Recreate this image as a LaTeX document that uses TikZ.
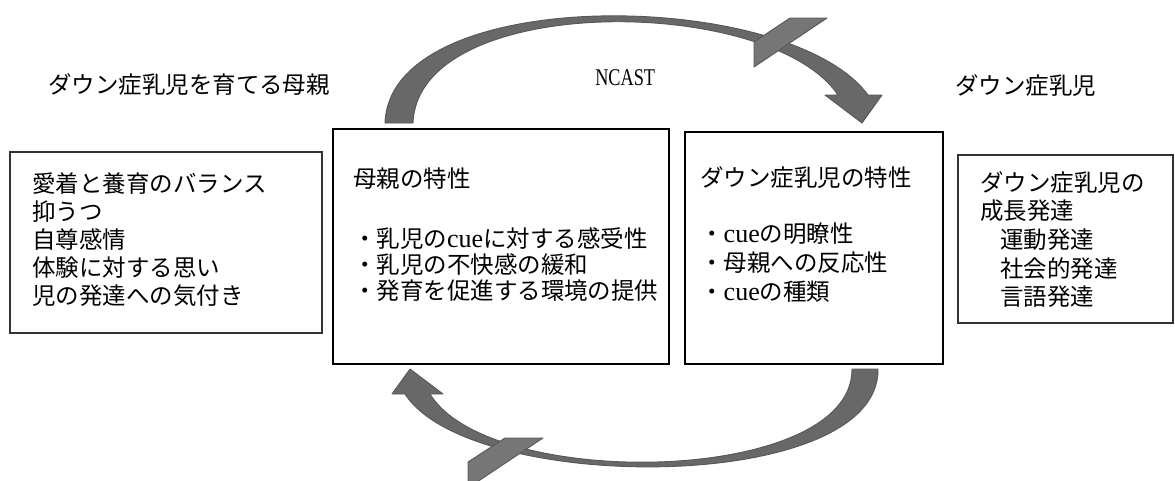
\documentclass[tikz,border=0pt]{standalone}
\usepackage{fontspec}
\setmainfont{Noto Sans CJK JP}
\newfontfamily\latn{Liberation Serif}
\newfontfamily\latnc[FakeStretch=0.76]{Liberation Serif}
\usetikzlibrary{fit}
\definecolor{bandgray}{RGB}{104,104,104}
\definecolor{twistgray}{RGB}{118,118,118}
\definecolor{bandline}{RGB}{88,88,88}
\newcommand{\cue}{{\latn\fontsize{19.5pt}{19.5pt}\selectfont cue}}
\begin{document}
\begin{tikzpicture}[x=0.75pt,y=-0.75pt,
  thinbox/.style={draw=black!80, line width=0.9pt, inner sep=0pt},
  thickbox/.style={draw=black, line width=1.8pt, inner sep=0pt},
  txt/.style={anchor=north west, inner sep=0pt, align=left},
  band/.style={fill=bandgray, draw=bandline, line width=0.7pt, line join=round},
  twist/.style={fill=twistgray, draw=bandline, line width=0.7pt, line join=round}
]
\useasboundingbox (0,0) rectangle (1175,480);

% arrows (shapes)
\path[band] (385,123) .. controls (390,-18) and (790,-12) .. (868,95)
  -- (882,95) -- (862,123) -- (825,95) -- (838,95)
  .. controls (770,-6) and (418,-8) .. (413,123) -- cycle;
\path[twist] (754,42) -- (790,18) -- (827,18) -- (754,67) -- cycle;

\path[band] (878,369) .. controls (880,495) and (470,495) .. (405,394)
  -- (392,394) -- (410,369) -- (443,394) -- (430,394)
  .. controls (490,492) and (853,485) .. (852,369) -- cycle;
\path[twist] (468,462) -- (505,438) -- (543,438) -- (468,488) -- cycle;

% boxes
\node[thinbox, fit={(10,152) (322,333)}] (factors) {};
\node[thickbox, fit={(333,129) (669,364)}] (mom) {};
\node[thickbox, fit={(685,132) (943,364)}] (baby) {};
\node[thinbox, fit={(958,155) (1173,323)}] (growth) {};

% titles
\node[anchor=west, inner sep=0pt, font=\fontsize{17.6pt}{21pt}\selectfont] (tleft) at (48,85) {ダウン症乳児を育てる母親};
\node[anchor=west, inner sep=0pt, font=\fontsize{17.6pt}{21pt}\selectfont] (tright) at (955,86) {ダウン症乳児};
\node[anchor=west, inner sep=0pt, font=\latnc\fontsize{18pt}{18pt}\selectfont] (ncast) at (595,78) {NCAST};

% box texts
\node[txt, font=\fontsize{17.6pt}{21pt}\selectfont] (factorstext) at (32,172)
  {愛着と養育のバランス\\抑うつ\\自尊感情\\体験に対する思い\\児の発達への気付き};

\node[txt, font=\fontsize{17.6pt}{19.5pt}\selectfont] (momtext) at (353,167)
  {母親の特性\\[25.5pt]・乳児の\cue に対する感受性\\・乳児の不快感の緩和\\・発育を促進する環境の提供};

\node[txt, font=\fontsize{17.6pt}{22pt}\selectfont] (babytext) at (700,166)
  {ダウン症乳児の特性\\[20pt]・\cue の明瞭性\\・母親への反応性\\・\cue の種類};

\node[txt, font=\fontsize{17.6pt}{21.5pt}\selectfont] (growthtext) at (980,171)
  {ダウン症乳児の\\成長発達\\\hspace*{15pt}運動発達\\\hspace*{15pt}社会的発達\\\hspace*{15pt}言語発達};
\end{tikzpicture}
\end{document}
